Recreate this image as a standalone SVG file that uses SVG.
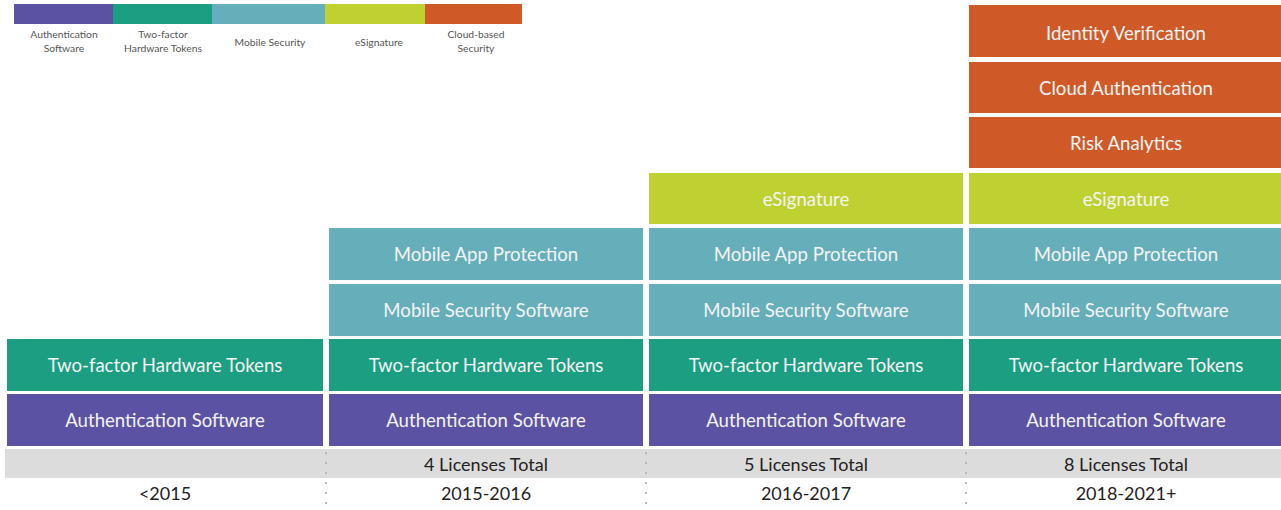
<svg xmlns="http://www.w3.org/2000/svg" width="1281" height="510" viewBox="0 0 1281 510">
  <style>
    .auth { fill: #5b52a3; }
    .tok { fill: #1b9e81; }
    .mob { fill: #66afba; }
    .esig { fill: #bfd130; }
    .cloud { fill: #cf5a28; }
    .lbl { font-family: Lato, "Open Sans", sans-serif; font-size: 18.6px; fill: #f4f4f4; text-anchor: middle; }
    .leg { font-family: Lato, "Open Sans", sans-serif; font-size: 10.3px; fill: #555; text-anchor: middle; }
    .foot { font-family: Lato, "Open Sans", sans-serif; font-size: 18px; fill: #222; text-anchor: middle; }
    .sep { stroke: #b8b8b8; stroke-width: 2; stroke-dasharray: 2 8; }
  </style>

  <rect width="1281" height="510" fill="#ffffff"/>

  <!-- legend -->
  <g id="legend">
    <rect class="auth" x="14" y="4" width="99" height="20"/>
    <rect class="tok" x="113" y="4" width="99" height="20"/>
    <rect class="mob" x="212" y="4" width="113" height="20"/>
    <rect class="esig" x="325" y="4" width="100" height="20"/>
    <rect class="cloud" x="425" y="4" width="97" height="20"/>
    <text class="leg" x="64" y="38">Authentication</text>
    <text class="leg" x="64" y="52">Software</text>
    <text class="leg" x="163" y="38">Two-factor</text>
    <text class="leg" x="163" y="52">Hardware Tokens</text>
    <text class="leg" x="270" y="46">Mobile Security</text>
    <text class="leg" x="379" y="46">eSignature</text>
    <text class="leg" x="476" y="38">Cloud-based</text>
    <text class="leg" x="476" y="52">Security</text>
  </g>

  <!-- footer band -->
  <rect x="5" y="449" width="1276" height="29" fill="#dcdcdc"/>
  <g id="separators">
    <line class="sep" x1="326" y1="452" x2="326" y2="506"/>
    <line class="sep" x1="646" y1="452" x2="646" y2="506"/>
    <line class="sep" x1="966" y1="452" x2="966" y2="506"/>
  </g>

  <!-- column <2015 -->
  <g id="col-pre2015">
    <g id="c1-tok"><rect class="tok" x="7" y="339" width="316" height="52"/><text class="lbl" x="165" y="372">Two-factor Hardware Tokens</text></g>
    <g id="c1-auth"><rect class="auth" x="7" y="394" width="316" height="52"/><text class="lbl" x="165" y="427">Authentication Software</text></g>
    <text class="foot" x="165" y="500">&lt;2015</text>
  </g>

  <!-- column 2015-2016 -->
  <g id="col-2015">
    <g id="c2-app"><rect class="mob" x="329" y="228" width="314" height="52"/><text class="lbl" x="486" y="261">Mobile App Protection</text></g>
    <g id="c2-mss"><rect class="mob" x="329" y="284" width="314" height="52"/><text class="lbl" x="486" y="317">Mobile Security Software</text></g>
    <g id="c2-tok"><rect class="tok" x="329" y="339" width="314" height="52"/><text class="lbl" x="486" y="372">Two-factor Hardware Tokens</text></g>
    <g id="c2-auth"><rect class="auth" x="329" y="394" width="314" height="52"/><text class="lbl" x="486" y="427">Authentication Software</text></g>
    <text class="foot" x="486" y="471">4 Licenses Total</text>
    <text class="foot" x="486" y="500">2015-2016</text>
  </g>

  <!-- column 2016-2017 -->
  <g id="col-2016">
    <g id="c3-esig"><rect class="esig" x="649" y="173" width="314" height="51"/><text class="lbl" x="806" y="206">eSignature</text></g>
    <g id="c3-app"><rect class="mob" x="649" y="228" width="314" height="52"/><text class="lbl" x="806" y="261">Mobile App Protection</text></g>
    <g id="c3-mss"><rect class="mob" x="649" y="284" width="314" height="52"/><text class="lbl" x="806" y="317">Mobile Security Software</text></g>
    <g id="c3-tok"><rect class="tok" x="649" y="339" width="314" height="52"/><text class="lbl" x="806" y="372">Two-factor Hardware Tokens</text></g>
    <g id="c3-auth"><rect class="auth" x="649" y="394" width="314" height="52"/><text class="lbl" x="806" y="427">Authentication Software</text></g>
    <text class="foot" x="806" y="471">5 Licenses Total</text>
    <text class="foot" x="806" y="500">2016-2017</text>
  </g>

  <!-- column 2018-2021+ -->
  <g id="col-2018">
    <g id="c4-idv"><rect class="cloud" x="969" y="5" width="314" height="52"/><text class="lbl" x="1126" y="40">Identity Verification</text></g>
    <g id="c4-cauth"><rect class="cloud" x="969" y="62" width="314" height="51"/><text class="lbl" x="1126" y="95">Cloud Authentication</text></g>
    <g id="c4-risk"><rect class="cloud" x="969" y="117" width="314" height="51"/><text class="lbl" x="1126" y="150">Risk Analytics</text></g>
    <g id="c4-esig"><rect class="esig" x="969" y="173" width="314" height="51"/><text class="lbl" x="1126" y="206">eSignature</text></g>
    <g id="c4-app"><rect class="mob" x="969" y="228" width="314" height="52"/><text class="lbl" x="1126" y="261">Mobile App Protection</text></g>
    <g id="c4-mss"><rect class="mob" x="969" y="284" width="314" height="52"/><text class="lbl" x="1126" y="317">Mobile Security Software</text></g>
    <g id="c4-tok"><rect class="tok" x="969" y="339" width="314" height="52"/><text class="lbl" x="1126" y="372">Two-factor Hardware Tokens</text></g>
    <g id="c4-auth"><rect class="auth" x="969" y="394" width="314" height="52"/><text class="lbl" x="1126" y="427">Authentication Software</text></g>
    <text class="foot" x="1126" y="471">8 Licenses Total</text>
    <text class="foot" x="1126" y="500">2018-2021+</text>
  </g>
</svg>
